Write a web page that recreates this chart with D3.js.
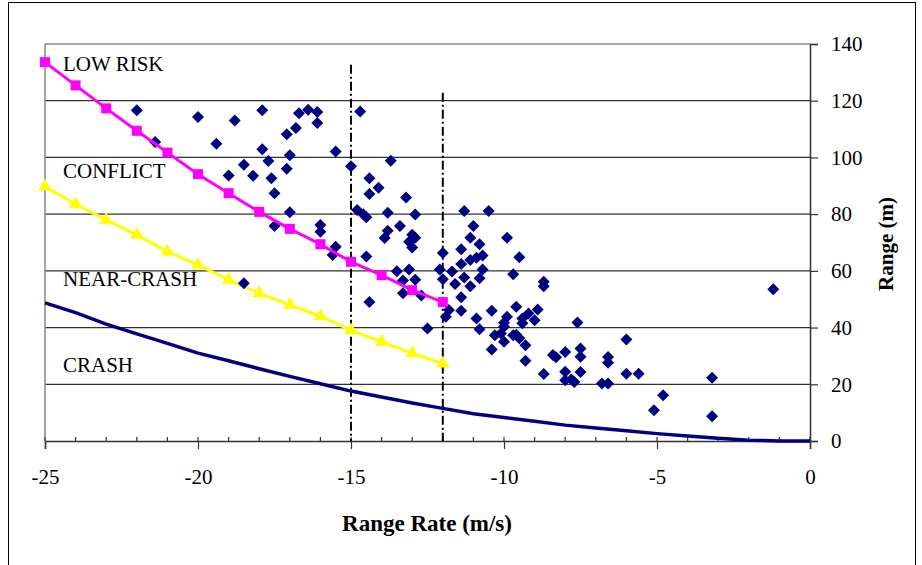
<!DOCTYPE html>
<html>
<head>
<meta charset="utf-8">
<script src="https://cdn.jsdelivr.net/npm/d3@7"></script>
<style>
  body { margin: 0; background: #fff; }
  text { font-family: "Liberation Serif", "Times New Roman", serif; }
</style>
</head>
<body>
<div id="chart"></div>
<script>
// boundary curves (range rate vs range)
const boundX = [-25, -24, -23, -22, -21, -20, -19, -18, -17, -16, -15, -14, -13, -12];
const lowRiskY = [133.6, 125.4, 117.3, 109.4, 101.7, 94.1, 87.4, 80.8, 74.8, 69.4, 63.2, 58.5, 53.2, 49.0];
const nearCrashY = [89.7, 83.5, 78.0, 72.7, 66.8, 62.1, 56.8, 52.1, 48.0, 44.0, 39.0, 35.0, 31.0, 27.3];

const crashX = [-25, -24, -23, -22, -21, -20, -19, -18, -17, -16, -15, -14, -13, -12, -11, -10, -9, -8, -7, -6, -5, -4, -3, -2, -1, 0];
const crashY = [48.7, 45.3, 41.2, 37.8, 34.4, 31.0, 28.3, 25.5, 22.8, 20.2, 17.6, 15.5, 13.4, 11.5, 9.6, 8.3, 7.0, 5.6, 4.6, 3.6, 2.6, 1.8, 1.0, 0.3, 0, 0];

// observed events
const eventX = [-22.0, -20.0, -18.8, -17.9, -16.7, -16.4, -16.1, -16.1, -16.8, -17.1, -21.4, -19.4, -17.9, -17.0, -17.7, -18.5, -17.1, -19.0, -18.2, -17.6,
  -17.5, -17.0, -17.5, -16.0, -16.0, -15.6, -15.5, -14.7, -15.5, -14.5, -18.5, -15.0, -13.7, -14.4, -14.1, -14.4, -13.2, -14.8, -14.6, -14.5,
  -13.8, -12.9, -11.3, -10.5, -13.4, -13.8, -13.9, -13.0, -12.9, -13.1, -13.0, -11.0, -11.1, -10.8, -9.9, -11.4, -10.7, -11.1, -10.9, -11.4,
  -12.0, -13.5, -13.1, -12.1, -11.7, -10.7, -9.5, -12.0, -11.3, -10.8, -9.7, -8.7, -8.7, -11.6, -11.1, -11.4, -9.6, -10.4, -11.4, -11.8,
  -11.9, -10.9, -8.9, -9.2, -9.4, -9.0, -9.4, -9.9, -10.0, -10.0, -7.6, -10.8, -10.3, -10.1, -9.6, -12.5, -10.0, -10.4, -9.3, -9.3,
  -8.4, -8.3, -8.0, -8.7, -8.0, -8.0, -6.0, -7.5, -7.5, -6.6, -6.6, -7.5, -6.0, -5.6, -1.2, -7.8, -7.7, -6.8, -6.6, -3.2,
  -4.8, -5.1, -3.2, -13.3, -12.9, -13.3, -12.7, -9.5, -9.7, -14.4];
const eventY = [116.6, 114.3, 113.0, 116.6, 115.6, 116.8, 116.0, 112.1, 110.4, 108.2, 105.4, 104.8, 102.9, 100.8, 98.7, 97.4, 96.0, 93.6, 93.5, 92.7,
  87.4, 80.7, 75.8, 76.2, 73.8, 65.6, 102.1, 116.2, 68.5, 65.1, 55.6, 96.9, 98.8, 92.7, 89.3, 87.1, 85.9, 81.5, 80.0, 78.9,
  80.5, 79.9, 81.1, 81.1, 75.8, 74.1, 71.6, 72.7, 71.7, 70.3, 68.2, 75.8, 71.7, 69.4, 71.7, 67.6, 65.4, 63.8, 64.6, 62.4,
  66.3, 59.9, 60.5, 60.5, 59.8, 60.5, 64.8, 57.0, 57.7, 57.4, 58.8, 56.2, 54.6, 55.4, 54.6, 50.7, 47.3, 45.9, 45.9, 46.2,
  43.8, 43.2, 46.4, 45.0, 43.2, 42.6, 41.5, 43.8, 41.7, 40.3, 41.8, 39.4, 37.3, 37.9, 37.5, 39.7, 35.0, 32.3, 33.8, 28.3,
  30.3, 29.5, 31.4, 23.6, 24.4, 21.4, 35.8, 32.6, 29.7, 29.6, 27.6, 24.3, 23.7, 23.7, 53.5, 21.7, 20.8, 20.3, 20.3, 22.3,
  16.1, 10.8, 8.7, 56.6, 56.9, 52.1, 51.3, 36.2, 37.3, 49.0];

// dash-dot thresholds
const markerX = [-15, -12];
const markerTop = [132.7, 122.8];

const zoneLabels = ["LOW RISK", "CONFLICT", "NEAR-CRASH", "CRASH"];

const xTicks = [-25, -20, -15, -10, -5, 0];
const yTicks = [0, 20, 40, 60, 80, 100, 120, 140];

const svgW = 922, svgH = 565;
const plot = { left: 45, right: 810, top: 44, bottom: 441 };
// baselines of the zone labels, in pixels
const labelBase = [70.5, 177.5, 286, 372];

const svg = d3.select("#chart").append("svg")
    .attr("width", svgW)
    .attr("height", svgH);

// outer frame
svg.append("rect")
    .attr("x", 8.5).attr("y", 2.5)
    .attr("width", 907).attr("height", 600)
    .attr("fill", "none").attr("stroke", "#000").attr("stroke-width", 1);

const x = d3.scaleLinear().domain([-25, 0]).range([plot.left, plot.right]);
const y = d3.scaleLinear().domain([0, 140]).range([plot.bottom, plot.top]);

// horizontal grid
svg.append("g")
    .selectAll("line")
    .data(yTicks.filter(d => d > 0))
    .enter()
    .append("line")
    .attr("x1", plot.left).attr("x2", plot.right)
    .attr("y1", d => y(d)).attr("y2", d => y(d))
    .attr("stroke", d => d === 140 ? "#888" : "#333")
    .attr("stroke-width", d => d === 140 ? 1.5 : 1.2);

// left edge of plot
svg.append("line")
    .attr("x1", plot.left).attr("x2", plot.left)
    .attr("y1", plot.top).attr("y2", plot.bottom)
    .attr("stroke", "#888").attr("stroke-width", 1.5);

// right y axis
const rightAxis = d3.axisRight(y).tickValues(yTicks).tickSize(8).tickPadding(13);
const gy = svg.append("g")
    .attr("transform", `translate(${plot.right},0)`)
    .call(rightAxis);
gy.select(".domain").attr("stroke", "#333").attr("stroke-width", 1.5);
gy.selectAll(".tick line").attr("stroke", "#333").attr("stroke-width", 1.2);
gy.selectAll(".tick text")
    .attr("font-size", 21)
    .attr("font-family", "Liberation Serif")
    .attr("fill", "#000");

// bottom x axis: minor ticks inside, major ticks outside
const minorTicks = d3.range(-25, 1, 1);
svg.append("g")
    .selectAll("line")
    .data(minorTicks)
    .enter()
    .append("line")
    .attr("x1", d => x(d)).attr("x2", d => x(d))
    .attr("y1", plot.bottom - 4).attr("y2", plot.bottom)
    .attr("stroke", "#333").attr("stroke-width", 1.2);

const bottomAxis = d3.axisBottom(x).tickValues(xTicks).tickSize(8).tickPadding(20)
    .tickFormat(d => String(d));
const gx = svg.append("g")
    .attr("transform", `translate(0,${plot.bottom})`)
    .call(bottomAxis);
gx.select(".domain").attr("stroke", "#333").attr("stroke-width", 1.5);
gx.selectAll(".tick line").attr("stroke", "#333").attr("stroke-width", 1.2);
gx.selectAll(".tick text")
    .attr("font-size", 21)
    .attr("font-family", "Liberation Serif")
    .attr("fill", "#000");

// dash-dot vertical thresholds
svg.append("g")
    .selectAll("line")
    .data(markerX)
    .enter()
    .append("line")
    .attr("x1", d => x(d)).attr("x2", d => x(d))
    .attr("y1", (d, i) => y(markerTop[i])).attr("y2", plot.bottom)
    .attr("stroke", "#000").attr("stroke-width", 2)
    .attr("stroke-dasharray", "9,3,2,3");

// crash boundary
const curve = d3.line().x(d => x(d[0])).y(d => y(d[1]));
svg.append("path")
    .datum(d3.zip(crashX, crashY))
    .attr("d", curve)
    .attr("fill", "none")
    .attr("stroke", "#000080")
    .attr("stroke-width", 3.5);

// near-crash boundary (yellow triangles)
const ncData = d3.zip(boundX, nearCrashY);
svg.append("path")
    .datum(ncData)
    .attr("d", curve)
    .attr("fill", "none")
    .attr("stroke", "#ffff00")
    .attr("stroke-width", 3);
svg.append("g")
    .selectAll("path")
    .data(ncData)
    .enter()
    .append("path")
    .attr("d", d3.symbol().type(d3.symbolTriangle).size(80))
    .attr("transform", d => `translate(${x(d[0])},${y(d[1])})`)
    .attr("fill", "#ffff00");

// events (navy diamonds)
svg.append("g")
    .selectAll("path")
    .data(d3.zip(eventX, eventY))
    .enter()
    .append("path")
    .attr("d", "M0,-6L6,0L0,6L-6,0Z")
    .attr("transform", d => `translate(${x(d[0])},${y(d[1])})`)
    .attr("fill", "#000080");

// low-risk boundary (magenta squares)
const lrData = d3.zip(boundX, lowRiskY);
svg.append("path")
    .datum(lrData)
    .attr("d", curve)
    .attr("fill", "none")
    .attr("stroke", "#ff00ff")
    .attr("stroke-width", 3);
svg.append("g")
    .selectAll("rect")
    .data(lrData)
    .enter()
    .append("rect")
    .attr("x", d => x(d[0]) - 5).attr("y", d => y(d[1]) - 5)
    .attr("width", 10).attr("height", 10)
    .attr("fill", "#ff00ff");

// zone labels
svg.append("g")
    .selectAll("text")
    .data(zoneLabels)
    .enter()
    .append("text")
    .attr("x", 63)
    .attr("y", (d, i) => labelBase[i])
    .attr("font-size", 21)
    .attr("fill", "#000")
    .text(d => d);

// axis titles
svg.append("text")
    .attr("x", 427).attr("y", 531)
    .attr("text-anchor", "middle")
    .attr("font-size", 23).attr("font-weight", "bold")
    .text("Range Rate (m/s)");

svg.append("text")
    .attr("transform", "translate(893,244) rotate(-90)")
    .attr("text-anchor", "middle")
    .attr("font-size", 21).attr("font-weight", "bold")
    .text("Range (m)");
</script>
</body>
</html>
